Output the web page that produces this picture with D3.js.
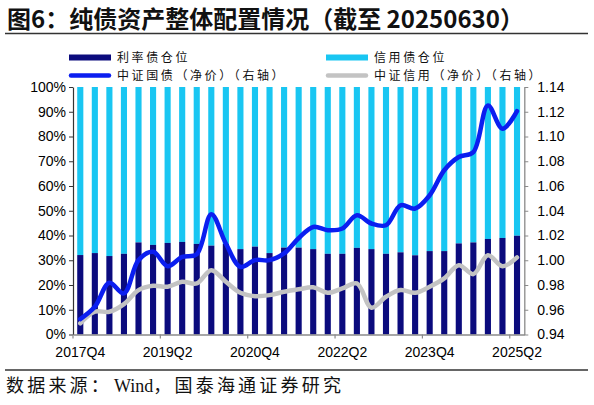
<!DOCTYPE html>
<html><head><meta charset="utf-8">
<script src="https://cdn.jsdelivr.net/npm/d3@7"></script>
<style>
html,body{margin:0;padding:0;background:#fff;}
svg{display:block;}
.num{font-family:"Liberation Sans",Arial,sans-serif;font-size:14px;fill:#000;}
.cjk{font-family:"Noto Sans CJK SC",sans-serif;}
</style></head>
<body>
<svg id="c" width="594" height="405"></svg>
<script>
const quarters = ["2017Q4","2018Q1","2018Q2","2018Q3","2018Q4","2019Q1","2019Q2","2019Q3","2019Q4","2020Q1","2020Q2","2020Q3","2020Q4","2021Q1","2021Q2","2021Q3","2021Q4","2022Q1","2022Q2","2022Q3","2022Q4","2023Q1","2023Q2","2023Q3","2023Q4","2024Q1","2024Q2","2024Q3","2024Q4","2025Q1","2025Q2"];
const rateShare = [32.1,32.9,31.7,32.6,37.2,36.2,37.0,37.4,36.6,35.9,36.6,34.5,35.5,32.9,35.1,35.1,34.5,32.6,32.6,35.0,34.5,32.6,33.2,32.0,33.7,33.7,36.8,37.2,38.6,39.0,39.9];
const creditShare = rateShare.map(v => 100 - v);
const govIndex = [0.9525,0.9624,0.9818,0.9732,1.0001,1.0068,0.9952,1.0027,1.0049,1.0372,1.0135,0.9947,1.0001,1.0001,1.0055,1.0178,1.0269,1.0243,1.0256,1.0364,1.0297,1.0283,1.0444,1.0418,1.0525,1.0727,1.0834,1.0874,1.1251,1.1063,1.1205];
const creditIndex = [0.9490,0.9584,0.9584,0.9646,0.9759,0.9794,0.9786,0.9826,0.9813,0.9920,0.9826,0.9737,0.9710,0.9718,0.9745,0.9765,0.9781,0.9737,0.9773,0.9813,0.9616,0.9705,0.9759,0.9737,0.9786,0.9853,0.9960,0.9888,1.0041,0.9952,1.0023];
const xLabels = ["2017Q4","2019Q2","2020Q4","2022Q2","2023Q4","2025Q2"];
const leftTicks = [0,10,20,30,40,50,60,70,80,90,100];
const rightTicks = [0.94,0.96,0.98,1.00,1.02,1.04,1.06,1.08,1.10,1.12,1.14];
const titleText = "图6：纯债资产整体配置情况（截至 20250630）";
const sourceParts = ["数据来源：","Wind","，国泰海通证券研究"];
const legendNames = ["利率债仓位","信用债仓位","中证国债（净价）（右轴）","中证信用（净价）（右轴）"];

const C = {navy:"#0b0b7d", cyan:"#19c6f2", blue:"#0b1ef0", gray:"#c3c3c3"};
const svg = d3.select("#c");

// Title
svg.append("text").attr("x",7).attr("y",28).attr("class","cjk")
  .attr("font-size",24).attr("font-weight",700).attr("fill","#111").text(titleText);
svg.append("line").attr("x1",5).attr("x2",588).attr("y1",33.5).attr("y2",33.5).attr("stroke","#333").attr("stroke-width",1.3);

// Scales
const L = 73, R = 524.3, T = 87, B = 334.5;
const x = d3.scaleBand().domain(quarters).range([L,R]).paddingInner(0.58).paddingOuter(0.29);
const yL = d3.scaleLinear().domain([0,100]).range([B,T]);
const yR = d3.scaleLinear().domain([0.94,1.14]).range([B,T]);
const cx = q => x(q) + x.bandwidth()/2;

// Bars
const data = quarters.map((q,i)=>({q, r:rateShare[i], c:creditShare[i]}));
svg.append("g").selectAll("rect").data(data).join("rect")
  .attr("x",d=>x(d.q)).attr("width",x.bandwidth())
  .attr("y",d=>yL(d.r + d.c)).attr("height",d=>yL(d.r)-yL(d.r+d.c)).attr("fill",C.cyan);
svg.append("g").selectAll("rect").data(data).join("rect")
  .attr("x",d=>x(d.q)).attr("width",x.bandwidth())
  .attr("y",d=>yL(d.r)).attr("height",d=>yL(0)-yL(d.r)).attr("fill",C.navy);

// Lines
const line = d3.line().curve(d3.curveCatmullRom.alpha(0.5));
svg.append("path").attr("d", line(quarters.map((q,i)=>[cx(q), yR(creditIndex[i])])))
  .attr("fill","none").attr("stroke",C.gray).attr("stroke-width",4.5).attr("stroke-linejoin","round").attr("stroke-linecap","round");
svg.append("path").attr("d", line(quarters.map((q,i)=>[cx(q), yR(govIndex[i])])))
  .attr("fill","none").attr("stroke",C.blue).attr("stroke-width",4.5).attr("stroke-linejoin","round").attr("stroke-linecap","round");

// Left axis
const ga = svg.append("g").attr("transform",`translate(${L},0)`)
  .call(d3.axisLeft(yL).tickValues(leftTicks).tickFormat(d=>d+"%").tickSize(4).tickPadding(3).tickSizeOuter(0));
ga.select(".domain").attr("stroke","#333").attr("stroke-width",1.2);
ga.selectAll(".tick line").attr("stroke","#333");
ga.selectAll("text").attr("class","num").attr("font-family",null).attr("font-size",null);

// Right axis
const gr = svg.append("g").attr("transform",`translate(${R},0)`)
  .call(d3.axisRight(yR).tickValues(rightTicks).tickFormat(d3.format(".2f")).tickSize(4).tickPadding(9).tickSizeOuter(0));
gr.select(".domain").attr("stroke","#8a8a8a").attr("stroke-width",1.3);
gr.selectAll(".tick line").attr("stroke","#8a8a8a");
gr.selectAll("text").attr("class","num").attr("font-family",null).attr("font-size",null);

// Bottom axis
const gb = svg.append("g").attr("transform",`translate(0,${B})`)
  .call(d3.axisBottom(x).tickValues(xLabels).tickSize(0).tickPadding(13).tickSizeOuter(0));
gb.select(".domain").attr("stroke","#8a8a8a").attr("stroke-width",1.3);
gb.selectAll("text").attr("class","num").attr("font-family",null).attr("font-size",null);
const tickIdx = xLabels.map(l => quarters.indexOf(l));
svg.append("g").selectAll("line").data(tickIdx).join("line")
  .attr("x1",i=>x(quarters[i]) - x.step()*x.paddingInner()/2)
  .attr("x2",i=>x(quarters[i]) - x.step()*x.paddingInner()/2)
  .attr("y1",B).attr("y2",B+4).attr("stroke","#8a8a8a").attr("stroke-width",1.2);

// Legend
const lg = svg.append("g");
const items = [
  {n:legendNames[0], t:"rect", c:C.navy, x:69, y:57.5},
  {n:legendNames[1], t:"rect", c:C.cyan, x:326, y:57.5},
  {n:legendNames[2], t:"line", c:C.blue, x:69, y:75.5},
  {n:legendNames[3], t:"line", c:C.gray, x:326, y:75.5}
];
items.forEach(it=>{
  if(it.t==="rect"){
    lg.append("rect").attr("x",it.x).attr("y",it.y-3).attr("width",42).attr("height",6).attr("fill",it.c);
  } else {
    lg.append("line").attr("x1",it.x+2).attr("x2",it.x+40).attr("y1",it.y).attr("y2",it.y)
      .attr("stroke",it.c).attr("stroke-width",4.5).attr("stroke-linecap","round");
  }
  lg.append("text").attr("x",it.x+48).attr("y",it.y+4.3).attr("class","cjk")
    .attr("font-size",12).attr("letter-spacing",2.6).attr("fill","#111").text(it.n);
});

// Source
svg.append("line").attr("x1",5).attr("x2",588).attr("y1",370).attr("y2",370).attr("stroke","#333").attr("stroke-width",1.3);
const st = svg.append("text").attr("x",6).attr("y",392).attr("fill","#111");
st.append("tspan").attr("class","cjk").attr("font-size",18).attr("letter-spacing",3.2).text(sourceParts[0]);
st.append("tspan").attr("font-family","Liberation Serif, serif").attr("font-size",18).attr("dx",2).text(sourceParts[1]);
st.append("tspan").attr("class","cjk").attr("font-size",18).attr("letter-spacing",3.2).text(sourceParts[2]);
</script>
</body></html>
